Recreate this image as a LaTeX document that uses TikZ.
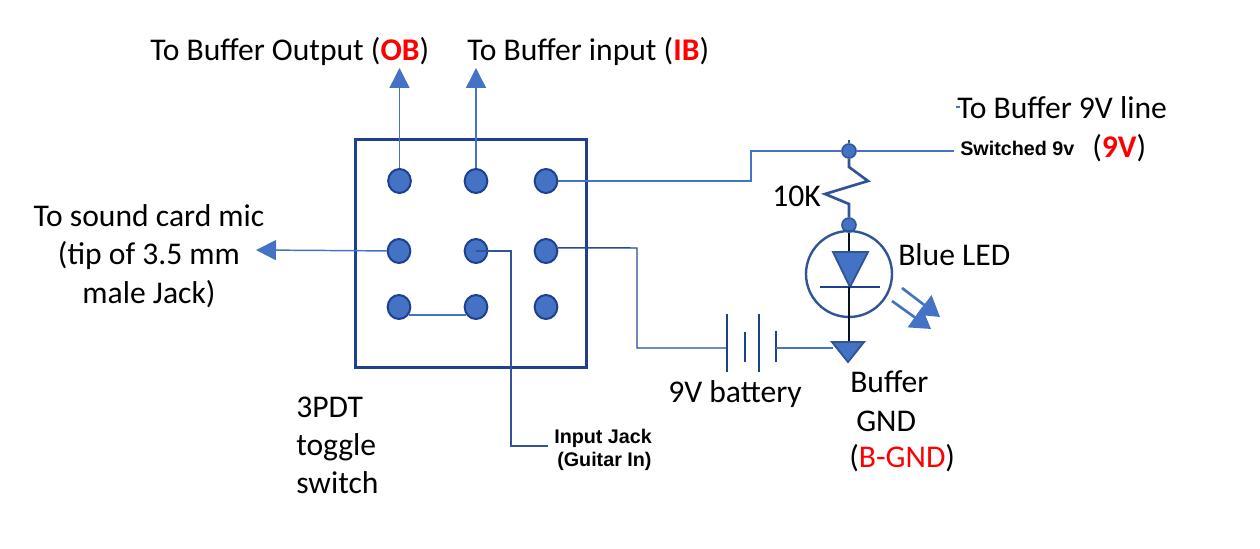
\documentclass[tikz,border=0pt]{standalone}
\usepackage{fontspec}
\setmainfont{Carlito}
\newfontfamily\arialf{Liberation Sans}
\usetikzlibrary{arrows.meta,shapes.geometric}
\definecolor{wireblue}{HTML}{4472C4}
\definecolor{darkb}{HTML}{2F5597}
\definecolor{navyb}{HTML}{1F3F8F}
\definecolor{redt}{HTML}{FF0000}
\newcommand{\redb}[1]{\textcolor{redt}{\textbf{#1}}}
\tikzset{
  x=0.75pt,y=-0.75pt,
  pin/.style={ellipse,draw=navyb,fill=wireblue,line width=1.5pt,minimum width=17pt,minimum height=18pt,inner sep=0pt},
  jct/.style={circle,draw=darkb,fill=wireblue,line width=1.2pt,minimum size=10.5pt,inner sep=0pt},
  wire/.style={draw=wireblue,line width=1.1pt},
  thick wire/.style={draw=darkb,line width=2pt},
  plate/.style={draw=navyb,line width=1.4pt},
  blackw/.style={draw=black!80!darkb,line width=2pt},
  tri/.style={draw=darkb,fill=wireblue,line width=1.4pt,line join=miter},
  arrowed/.style={draw=wireblue,line width=1.1pt,-{Triangle[length=15pt,width=15pt,fill=wireblue]}},
  ledarrow/.style={draw=wireblue,line width=2pt,-{Triangle[length=15pt,width=18pt,fill=wireblue]}},
  lab/.style={anchor=base west,inner sep=0pt,font=\fontsize{23.7pt}{28pt}\selectfont},
  clab/.style={anchor=base,inner sep=0pt,font=\fontsize{23.7pt}{28pt}\selectfont},
  small/.style={anchor=base west,inner sep=0pt,font=\arialf\bfseries\fontsize{14.8pt}{17pt}\selectfont}
}
\begin{document}
\begin{tikzpicture}
\useasboundingbox (0,0) rectangle (1260,549);
% switch body
\node[draw=navyb,line width=2.2pt,minimum width=173pt,minimum height=171.5pt,inner sep=0pt] (body) at (471,253.5) {};
% labels
\node[lab] (t1) at (150,61) {To Buffer Output (\redb{OB})};
\node[lab] (t2) at (467,61) {To Buffer input (\redb{IB})};
\node[lab] (t3) at (957,119) {To Buffer 9V line};
\node[small] (t4) at (960,156) {Switched 9v};
\node[lab] (t5) at (1092,158) {(\redb{9V})};
\node[clab] (t6) at (149,226) {To sound card mic};
\node[clab] (t7) at (149,264) {(tip of 3.5 mm};
\node[clab] (t8) at (149,303) {male Jack)};
\node[lab] (t9) at (772,207) {10K};
\node[lab] (t10) at (898,265) {Blue LED};
\node[lab] (t11) at (668,402) {9V battery};
\node[lab] (t12) at (850,392) {Buffer};
\node[lab] (t13) at (856,431) {GND};
\node[lab] (t14) at (849,467) {(\textcolor{redt}{B-GND})};
\node[lab] (t15) at (296,417) {3PDT};
\node[lab] (t16) at (296,455) {toggle};
\node[lab] (t17) at (296,493) {switch};
\node[small] (t18) at (554,443) {Input Jack};
\node[small] (t19) at (557,466) {(Guitar In)};
% pins
\foreach \n/\px/\py in {p1/399.5/181,p2/476/181,p3/546/181,p4/399/251,p5/476/251,p6/546/251,p7/399/307,p8/476/307,p9/546/307}
  \node[pin] (\n) at (\px,\py) {};
% coordinates
\coordinate (up1) at (399.5,68);
\coordinate (up2) at (476,68);
\coordinate (lft) at (256,250);
\coordinate (rt9) at (954,151);
\coordinate (top) at (849,140);
\coordinate (jack) at (548,446);
\coordinate (trit) at (849,252);
\coordinate (barm) at (849,287);
\coordinate (gnd) at (849,342);
\coordinate (batl) at (727,348);
\coordinate (batr) at (776,348);
\coordinate (gndw) at (833,348);
\node[jct] (n9) at (849,151) {};
\node[jct] (nr) at (849,225) {};
\node[circle,draw=darkb,line width=1.8pt,minimum size=64.5pt,inner sep=0pt] (led) at (849,274) {};
% connectors
\draw[arrowed] (p1) -- (up1);
\draw[arrowed] (p2) -- (up2);
\draw[arrowed] (p4) -- (lft);
\draw[wire] (p3.east) -- (751,181) -- (751,151) -- (n9) -- (rt9);
\draw[wire,draw=navyb!80!wireblue] (p6.15) -- (637,248) -- (637,348) -- (batl);
\draw[wire] (p7.-40) -- (p8.-140);
\draw[thick wire] (p5.center) -- (511,251) -- (511,446) -- (jack);
\draw[thick wire] (top) -- (n9);
\draw[thick wire,line join=miter] (n9) -- (849,167) -- (868,181) -- (825,194) -- (849,204) -- (nr);
\draw[blackw] (nr) -- (trit);
\draw[tri] (833,252) -- (868,252) -- (850,287) -- cycle;
\draw[draw=navyb,line width=1.8pt] (820,287) -- (880,287);
\draw[blackw] (barm) -- (gnd);
\draw[tri] (832,342) -- (864,342) -- (848,362) -- cycle;
\draw[ledarrow] (902,288) -- (940,317);
\draw[ledarrow] (892,301) -- (931,329);
% battery
\draw[plate] (727,314) -- (727,372);
\draw[plate] (745,332) -- (745,362);
\draw[plate] (759,314) -- (759,372);
\draw[plate] (776,331) -- (776,362);
\draw[wire] (batr) -- (gndw);
\draw[wire] (956,107) -- (960,107);
\end{tikzpicture}
\end{document}
